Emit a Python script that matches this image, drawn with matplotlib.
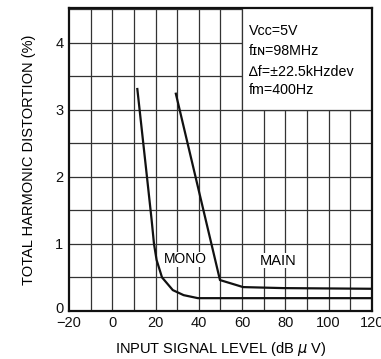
import matplotlib
matplotlib.use('Agg')
import matplotlib.pyplot as plt
import matplotlib.transforms as mtransforms
from matplotlib.patches import Rectangle

plt.rcParams['font.family'] = ['Liberation Sans', 'DejaVu Sans']

# data
mono_x = [11.6, 16.2, 18.2, 19.3, 20.5, 23, 28, 33, 39.6, 120]
mono_y = [3.31, 1.955, 1.36, 1.0, 0.76, 0.5, 0.31, 0.235, 0.19, 0.19]
main_x = [29.4, 49.8, 60.5, 79, 120]
main_y = [3.24, 0.46, 0.355, 0.34, 0.33]

x_ticks = [-20, 0, 20, 40, 60, 80, 100, 120]
y_ticks = [0, 1, 2, 3, 4]
conditions = ['V\u1d04\u1d04=5V', 'f\u026a\u0274=98MHz', '\u2206f=\u00b122.5kHzdev', 'fm=400Hz']

fig = plt.figure(figsize=(3.81, 3.59), dpi=100)
ax = fig.add_axes([0.181, 0.134, 0.795, 0.844])

ax.set_xlim(-20, 120)
ax.set_ylim(0, 4.52)

# grid every 10 dB and every 0.5 %
for gx in range(-10, 120, 10):
    ax.axvline(gx, color='#333333', lw=0.9, zorder=1)
for gy in [0.5, 1, 1.5, 2, 2.5, 3, 3.5, 4, 4.5]:
    ax.axhline(gy, color='#333333', lw=0.9, zorder=1)

# condition box in the upper right hides the grid
ax.add_patch(Rectangle((60, 3), 60, 1.6, facecolor='white', edgecolor='#333333', lw=0.9, zorder=2))
ys = [4.17, 3.87, 3.57, 3.30]
for txt, ty in zip(conditions, ys):
    ax.text(63.3, ty, txt, fontsize=10.3, va='center', ha='left', zorder=3)

ax.plot(mono_x, mono_y, color='#111111', lw=1.6, zorder=4)
ax.plot(main_x, main_y, color='#111111', lw=1.6, zorder=4)

ax.text(34, 0.77, 'MONO', fontsize=10, ha='center', va='center', zorder=5,
        bbox=dict(facecolor='white', edgecolor='none', pad=0.5))
ax.text(76.7, 0.75, 'MAIN', fontsize=10.5, ha='center', va='center', zorder=5,
        bbox=dict(facecolor='white', edgecolor='none', pad=0.5))

ax.set_xticks(x_ticks)
ax.set_yticks(y_ticks)
ax.set_xticklabels([str(v).replace('-', '\u2212') for v in x_ticks])
ax.set_yticklabels([str(v) for v in y_ticks])
ax.tick_params(length=0, labelsize=10.5, pad=4, colors='#111111')

# lift the "0" a little so it sits above the -20
lbl = ax.get_yticklabels()[0]
lbl.set_transform(lbl.get_transform() + mtransforms.ScaledTranslation(0, 2.5 / 72, fig.dpi_scale_trans))

for sp in ax.spines.values():
    sp.set_linewidth(1.6)
    sp.set_color('#111111')

ax.set_xlabel('INPUT SIGNAL LEVEL (dB $\\mu$ V)', fontsize=10.5, labelpad=7)
ax.set_ylabel('TOTAL HARMONIC DISTORTION (%)', fontsize=10.5, labelpad=14)

fig.savefig('out.png', dpi=100)
